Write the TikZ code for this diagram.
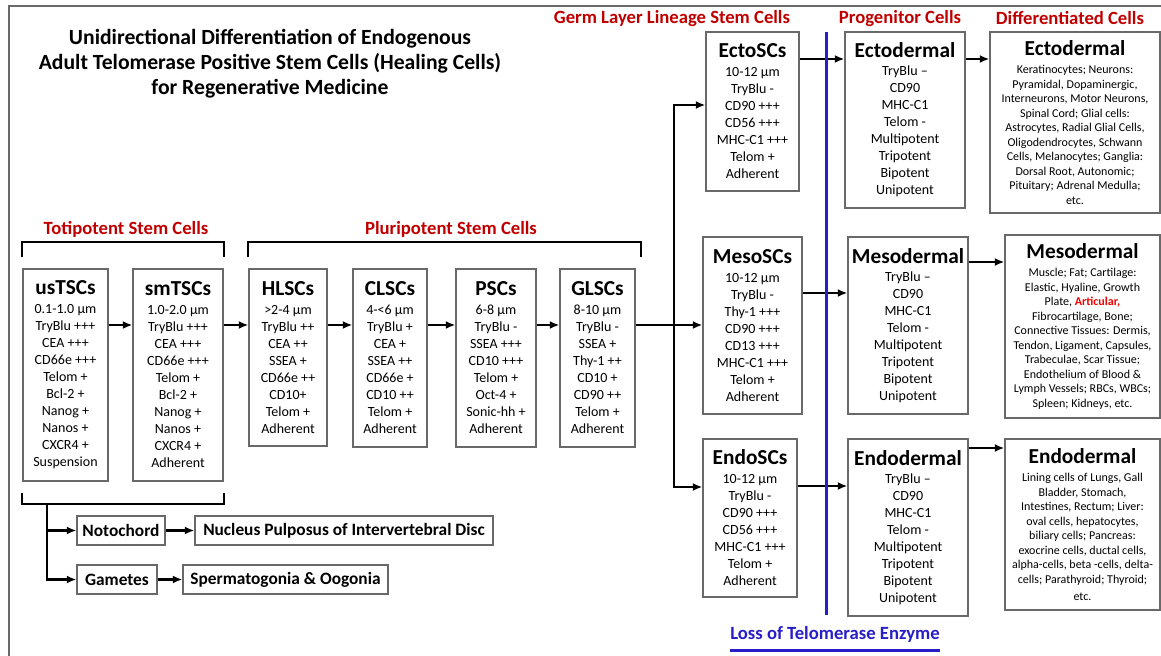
\documentclass[tikz,border=0pt]{standalone}
\usepackage{fontspec}
\setmainfont{Carlito}
\usetikzlibrary{arrows.meta}

\definecolor{headred}{RGB}{192,0,0}
\definecolor{artred}{RGB}{240,0,0}
\definecolor{lossblue}{RGB}{40,30,200}
\definecolor{boxgray}{RGB}{105,105,105}

\newcommand{\celltitle}[1]{{\fontsize{16pt}{19pt}\selectfont\bfseries #1}}

\tikzset{every picture/.style={line width=0.75pt}}
\tikzset{
  cellbox/.style={draw=boxgray, line width=1.1pt, align=center, inner sep=2pt, font=\fontsize{10.5pt}{12.75pt}\selectfont},
  tissuebox/.style={cellbox, font=\fontsize{9pt}{10.9pt}\selectfont},
  smallbox/.style={draw=boxgray, line width=1.1pt, inner sep=2pt, font=\fontsize{13pt}{15pt}\selectfont\bfseries},
  heading/.style={inner sep=0pt, text=headred, font=\fontsize{14pt}{17pt}\selectfont\bfseries},
  flow/.style={line width=1.6pt, -{Latex[length=7pt,width=6pt]}},
  bracket/.style={line width=1.5pt},
}

\begin{document}
\begin{tikzpicture}[x=0.75pt,y=0.75pt,yscale=-1,xscale=1]
\useasboundingbox (0,0) rectangle (1161,656);

%Frame
\draw [boxgray, line width=1.1pt] (1161,6) -- (9,6) -- (9,656);

% Text Node
\node (title) at (270,64) [align=center, font=\fontsize{16.25pt}{18.75pt}\selectfont\bfseries] {Unidirectional Differentiation of Endogenous\\Adult Telomerase Positive Stem Cells (Healing Cells)\\for Regenerative Medicine};
% Text Node
\node (toti) at (126,229) [heading] {Totipotent Stem Cells};
% Text Node
\node (pluri) at (451,229) [heading] {Pluripotent Stem Cells};
% Text Node
\node (germ) at (672,19) [heading] {Germ Layer Lineage Stem Cells};
% Text Node
\node (progen) at (900,19) [heading] {Progenitor Cells};
% Text Node
\node (differ) at (1070,18.5) [heading] {Differentiated Cells};
% Text Node
\node (loss) at (835,634) [heading, text=lossblue] {Loss of Telomerase Enzyme};

% Stem cell boxes
\node (usTSCs) at (65.5,375) [cellbox, minimum width=63.75pt, minimum height=159pt] {\celltitle{usTSCs}\\[1.5pt]0.1-1.0 µm\\TryBlu +++\\CEA +++\\CD66e +++\\Telom +\\Bcl-2 +\\Nanog +\\Nanos +\\CXCR4 +\\Suspension};
\node (smTSCs) at (178,375) [cellbox, minimum width=67.5pt, minimum height=159pt] {\celltitle{smTSCs}\\[1.5pt]1.0-2.0 µm\\TryBlu +++\\CEA +++\\CD66e +++\\Telom +\\Bcl-2 +\\Nanog +\\Nanos +\\CXCR4 +\\Adherent};
\node (HLSCs) at (288,357.5) [cellbox, minimum width=58.5pt, minimum height=132.75pt] {\celltitle{HLSCs}\\[1.5pt]>2-4 µm\\TryBlu ++\\CEA ++\\SSEA +\\CD66e ++\\CD10+\\Telom +\\Adherent};
\node (CLSCs) at (390,358) [cellbox, minimum width=55.5pt, minimum height=133.5pt] {\celltitle{CLSCs}\\[1.5pt]4-<6 µm\\TryBlu +\\CEA +\\SSEA ++\\CD66e +\\CD10 ++\\Telom +\\Adherent};
\node (PSCs) at (496,358) [cellbox, minimum width=60pt, minimum height=133.5pt] {\celltitle{PSCs}\\[1.5pt]6-8 µm\\TryBlu -\\SSEA +++\\CD10 +++\\Telom +\\Oct-4 +\\Sonic-hh +\\Adherent};
\node (GLSCs) at (597.5,358) [cellbox, minimum width=56.25pt, minimum height=133.5pt] {\celltitle{GLSCs}\\[1.5pt]8-10 µm\\TryBlu -\\SSEA +\\Thy-1 ++\\CD10 +\\CD90 ++\\Telom +\\Adherent};

% Germ layer boxes
\node (EctoSCs) at (752.5,111.5) [cellbox, minimum width=69.75pt, minimum height=119.25pt] {\celltitle{EctoSCs}\\[1.5pt]10-12 µm\\TryBlu -\\CD90 +++\\CD56 +++\\MHC-C1 +++\\Telom +\\Adherent};
\node (MesoSCs) at (752.5,325.5) [cellbox, minimum width=74.25pt, minimum height=132.75pt] {\celltitle{MesoSCs}\\[1.5pt]10-12 µm\\TryBlu -\\Thy-1 +++\\CD90 +++\\CD13 +++\\MHC-C1 +++\\Telom +\\Adherent};
\node (EndoSCs) at (750,518) [cellbox, minimum width=70.5pt, minimum height=118.5pt] {\celltitle{EndoSCs}\\[1.5pt]10-12 µm\\TryBlu -\\CD90 +++\\CD56 +++\\MHC-C1 +++\\Telom +\\Adherent};

% Progenitor boxes
\node (EctoP) at (905,120) [cellbox, minimum width=90pt, minimum height=132pt] {\celltitle{Ectodermal}\\[0.75pt]TryBlu –\\CD90\\MHC-C1\\Telom -\\Multipotent\\Tripotent\\Bipotent\\Unipotent};
\node (MesoP) at (908,325.5) [cellbox, minimum width=90pt, minimum height=132.75pt] {\celltitle{Mesodermal}\\[0.75pt]TryBlu –\\CD90\\MHC-C1\\Telom -\\Multipotent\\Tripotent\\Bipotent\\Unipotent};
\node (EndoP) at (908,527.5) [cellbox, minimum width=90pt, minimum height=132.75pt] {\celltitle{Endodermal}\\[0.75pt]TryBlu –\\CD90\\MHC-C1\\Telom -\\Multipotent\\Tripotent\\Bipotent\\Unipotent};

% Differentiated boxes
\node (EctoD) at (1075,122.5) [tissuebox, minimum width=127.5pt, minimum height=135.75pt] {\celltitle{Ectodermal}\\[2.6pt]Keratinocytes; Neurons:\\Pyramidal, Dopaminergic,\\Interneurons, Motor Neurons,\\Spinal Cord; Glial cells:\\Astrocytes, Radial Glial Cells,\\Oligodendrocytes, Schwann\\Cells, Melanocytes; Ganglia:\\Dorsal Root, Autonomic;\\Pituitary; Adrenal Medulla;\\etc.};
\node (MesoD) at (1082.5,326.5) [tissuebox, minimum width=116.25pt, minimum height=137.25pt] {\celltitle{Mesodermal}\\[2.6pt]Muscle; Fat; Cartilage:\\Elastic, Hyaline, Growth\\Plate, {\color{artred}\bfseries Articular,}\\Fibrocartilage, Bone;\\Connective Tissues: Dermis,\\Tendon, Ligament, Capsules,\\Trabeculae, Scar Tissue;\\Endothelium of Blood \&\\Lymph Vessels; RBCs, WBCs;\\Spleen; Kidneys, etc.};
\node (EndoD) at (1082.5,524.5) [tissuebox, minimum width=116.25pt, minimum height=128.25pt] {\celltitle{Endodermal}\\[2.6pt]Lining cells of Lungs, Gall\\Bladder, Stomach,\\Intestines, Rectum; Liver:\\oval cells, hepatocytes,\\biliary cells; Pancreas:\\exocrine cells, ductal cells,\\alpha-cells, beta -cells, delta-\\cells; Parathyroid; Thyroid;\\[2pt]etc.};

% Lower boxes
\node (Notochord) at (121,530.5) [smallbox, minimum width=66pt, minimum height=21.75pt] {Notochord};
\node (Nucleus) at (344,530.5) [smallbox, minimum width=223.5pt, minimum height=21.75pt] {Nucleus Pulposus of Intervertebral Disc};
\node (Gametes) at (117,579.5) [smallbox, minimum width=60pt, minimum height=21.75pt] {Gametes};
\node (Spermatogonia) at (285.5,579.5) [smallbox, minimum width=153.75pt, minimum height=21.75pt] {Spermatogonia \& Oogonia};

% Rows of the arrows
\coordinate (chainrow) at (0,325);
\coordinate (bus) at (674,325);
\coordinate (ectorow) at (0,105);
\coordinate (endorow) at (0,487);
\coordinate (ectoline) at (0,59);
\coordinate (mesoline) at (0,293);
\coordinate (endoline) at (0,486);
\coordinate (mesodiff) at (0,262);
\coordinate (endodiff) at (0,448);
\coordinate (stem) at (47,503);
\coordinate (losstop) at (826,32);
\coordinate (lossbot) at (826,615);

%Brackets
\draw [bracket] ([yshift=-8.25pt]usTSCs.north west) -- ++(0,-15) -| ([yshift=-8.25pt]smTSCs.north east);
\draw [bracket] ([yshift=-8.25pt]HLSCs.north west) -- ++(0,-15) -| ([xshift=3.75pt,yshift=-8.25pt]GLSCs.north east);
\draw [bracket] ([yshift=8.25pt]usTSCs.south west) -- ++(0,11) -| ([yshift=8.25pt]smTSCs.south east);

%Straight Lines
\draw [flow] (usTSCs.east |- chainrow) -- (smTSCs.west |- chainrow);
\draw [flow] (smTSCs.east |- chainrow) -- (HLSCs.west |- chainrow);
\draw [flow] (HLSCs.east |- chainrow) -- (CLSCs.west |- chainrow);
\draw [flow] (CLSCs.east |- chainrow) -- (PSCs.west |- chainrow);
\draw [flow] (PSCs.east |- chainrow) -- (GLSCs.west |- chainrow);
\draw [flow] (GLSCs.east |- chainrow) -- (MesoSCs.west |- chainrow);
\draw [flow] (bus) |- (EctoSCs.west |- ectorow);
\draw [flow] (bus) |- (EndoSCs.west |- endorow);

\draw [flow] (EctoSCs.east |- ectoline) -- (EctoP.west |- ectoline);
\draw [flow] (MesoSCs.east |- mesoline) -- (MesoP.west |- mesoline);
\draw [flow] (EndoSCs.east |- endoline) -- (EndoP.west |- endoline);
\draw [flow] (EctoP.east |- ectoline) -- (EctoD.west |- ectoline);
\draw [flow] (MesoP.east |- mesodiff) -- (MesoD.west |- mesodiff);
\draw [flow] (EndoP.east |- endodiff) -- (EndoD.west |- endodiff);

\draw [flow] (stem) |- (Notochord.west);
\draw [flow] (stem) |- (Gametes.west);
\draw [flow] (Notochord) -- (Nucleus);
\draw [flow] (Gametes) -- (Spermatogonia);

%Loss of telomerase line
\draw [lossblue, line width=2.25pt] (losstop) -- (lossbot);
\draw [lossblue, line width=2.25pt] ([yshift=6pt]loss.south west) -- ([yshift=6pt]loss.south east);

\end{tikzpicture}
\end{document}
